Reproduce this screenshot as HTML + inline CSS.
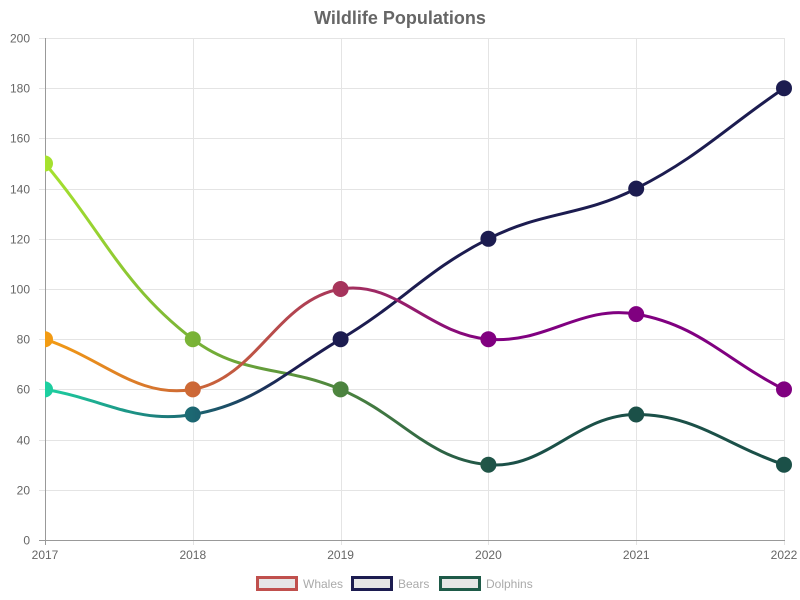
<!DOCTYPE html>
<html><head><meta charset="utf-8"><style>
html,body{margin:0;padding:0;background:#fff;}
svg{display:block;font-family:"Liberation Sans",Arial,sans-serif;}
</style></head><body>
<svg id="c" width="800" height="600" viewBox="0 0 800 600" xmlns="http://www.w3.org/2000/svg">
<defs>
<linearGradient id="gW" gradientUnits="userSpaceOnUse" x1="45" y1="0" x2="784" y2="0">
<stop offset="0" stop-color="#f39c12"/><stop offset="0.6" stop-color="#800080"/><stop offset="1" stop-color="#800080"/>
</linearGradient>
<linearGradient id="gB" gradientUnits="userSpaceOnUse" x1="45" y1="0" x2="784" y2="0">
<stop offset="0" stop-color="#1dd1a1"/><stop offset="0.34" stop-color="#1c1c50"/><stop offset="1" stop-color="#1c1c50"/>
</linearGradient>
<linearGradient id="gD" gradientUnits="userSpaceOnUse" x1="45" y1="0" x2="784" y2="0">
<stop offset="0" stop-color="#a6e22e"/><stop offset="0.62" stop-color="#1b5048"/><stop offset="1" stop-color="#1b5048"/>
</linearGradient>
<clipPath id="clip"><rect x="45" y="0" width="755" height="600"/></clipPath>
</defs>
<text x="400" y="24" text-anchor="middle" font-size="18" font-weight="bold" fill="#666">Wildlife Populations</text>
<g id="grid" stroke="#e4e4e4" stroke-width="1"></g>
<g id="axes"></g>
<g id="labels" font-size="12" fill="#666"></g>
<g id="series" clip-path="url(#clip)"></g>
<g font-size="12">
<rect x="257.5" y="577.5" width="39" height="12" fill="#e6e6e6" stroke="#c0504d" stroke-width="3"/>
<text x="303" y="588" fill="#aaa">Whales</text>
<rect x="352.5" y="577.5" width="39" height="12" fill="#e6e6e6" stroke="#1c1c50" stroke-width="3"/>
<text x="398" y="588" fill="#aaa">Bears</text>
<rect x="440.5" y="577.5" width="39" height="12" fill="#e6e6e6" stroke="#1e5a48" stroke-width="3"/>
<text x="486" y="588" fill="#aaa">Dolphins</text>
</g>
</svg>
<script>
(function(){
var NS="http://www.w3.org/2000/svg";
function el(p,t,a,txt){var e=document.createElementNS(NS,t);for(var k in a)e.setAttribute(k,a[k]);if(txt!=null)e.textContent=txt;p.appendChild(e);return e;}
var L=45,R=784,T=38,B=540;
function X(i){return L+i*(R-L)/5;}
function Y(v){return B-v*(B-T)/200;}
var grid=document.getElementById('grid'),axes=document.getElementById('axes'),lab=document.getElementById('labels');
for(var v=0;v<=200;v+=20){var y=Math.round(Y(v))+0.5;
 if(v>0) el(grid,'line',{x1:39,y1:y,x2:R+1,y2:y});
 el(lab,'text',{x:30,y:y+4,'text-anchor':'end'},String(v));}
var years=['2017','2018','2019','2020','2021','2022'];
for(var i=0;i<6;i++){var x=Math.round(X(i))+0.5;
 if(i>0) el(grid,'line',{x1:x,y1:T,x2:x,y2:B+5});
 el(lab,'text',{x:X(i),y:559,'text-anchor':'middle'},years[i]);}
el(axes,'line',{x1:L+0.5,y1:T,x2:L+0.5,y2:B+5,stroke:'#999','stroke-width':1});
el(axes,'line',{x1:39,y1:B+0.5,x2:R+1,y2:B+0.5,stroke:'#999','stroke-width':1});
el(axes,'line',{x1:39,y1:B+0.5,x2:L,y2:B+0.5,stroke:'#999','stroke-width':1});
var data=[
 {d:[80,60,100,80,90,60],g:'gW'},
 {d:[60,50,80,120,140,180],g:'gB'},
 {d:[150,80,60,30,50,30],g:'gD'}];
function dist(a,b){return Math.sqrt((a.x-b.x)*(a.x-b.x)+(a.y-b.y)*(a.y-b.y));}
function cap(p){p.x=Math.max(L,Math.min(R,p.x));p.y=Math.max(T,Math.min(B,p.y));return p;}
var ser=document.getElementById('series');
for(var s=data.length-1;s>=0;s--){
 var pts=data[s].d.map(function(v,i){return {x:X(i),y:Y(v)};});
 var cps=[];var t=0.4;
 for(var i=0;i<pts.length;i++){
  var prev=pts[i-1]||pts[i],cur=pts[i],next=pts[i+1]||pts[i];
  var d01=dist(cur,prev),d12=dist(next,cur);
  var s01=d01/(d01+d12),s12=d12/(d01+d12);
  if(isNaN(s01))s01=0;if(isNaN(s12))s12=0;
  var fa=t*s01,fb=t*s12;
  cps.push({p:cap({x:cur.x-fa*(next.x-prev.x),y:cur.y-fa*(next.y-prev.y)}),n:cap({x:cur.x+fb*(next.x-prev.x),y:cur.y+fb*(next.y-prev.y)})});
 }
 var dstr='M'+pts[0].x+' '+pts[0].y;
 for(var i=1;i<pts.length;i++){
  dstr+=' C'+cps[i-1].n.x+' '+cps[i-1].n.y+' '+cps[i].p.x+' '+cps[i].p.y+' '+pts[i].x+' '+pts[i].y;
 }
 var g='url(#'+data[s].g+')';
 el(ser,'path',{d:dstr,fill:'none',stroke:g,'stroke-width':3});
 for(var i=0;i<pts.length;i++) el(ser,'circle',{cx:pts[i].x,cy:pts[i].y,r:8,fill:g});
}
})();
</script>
</body></html>
